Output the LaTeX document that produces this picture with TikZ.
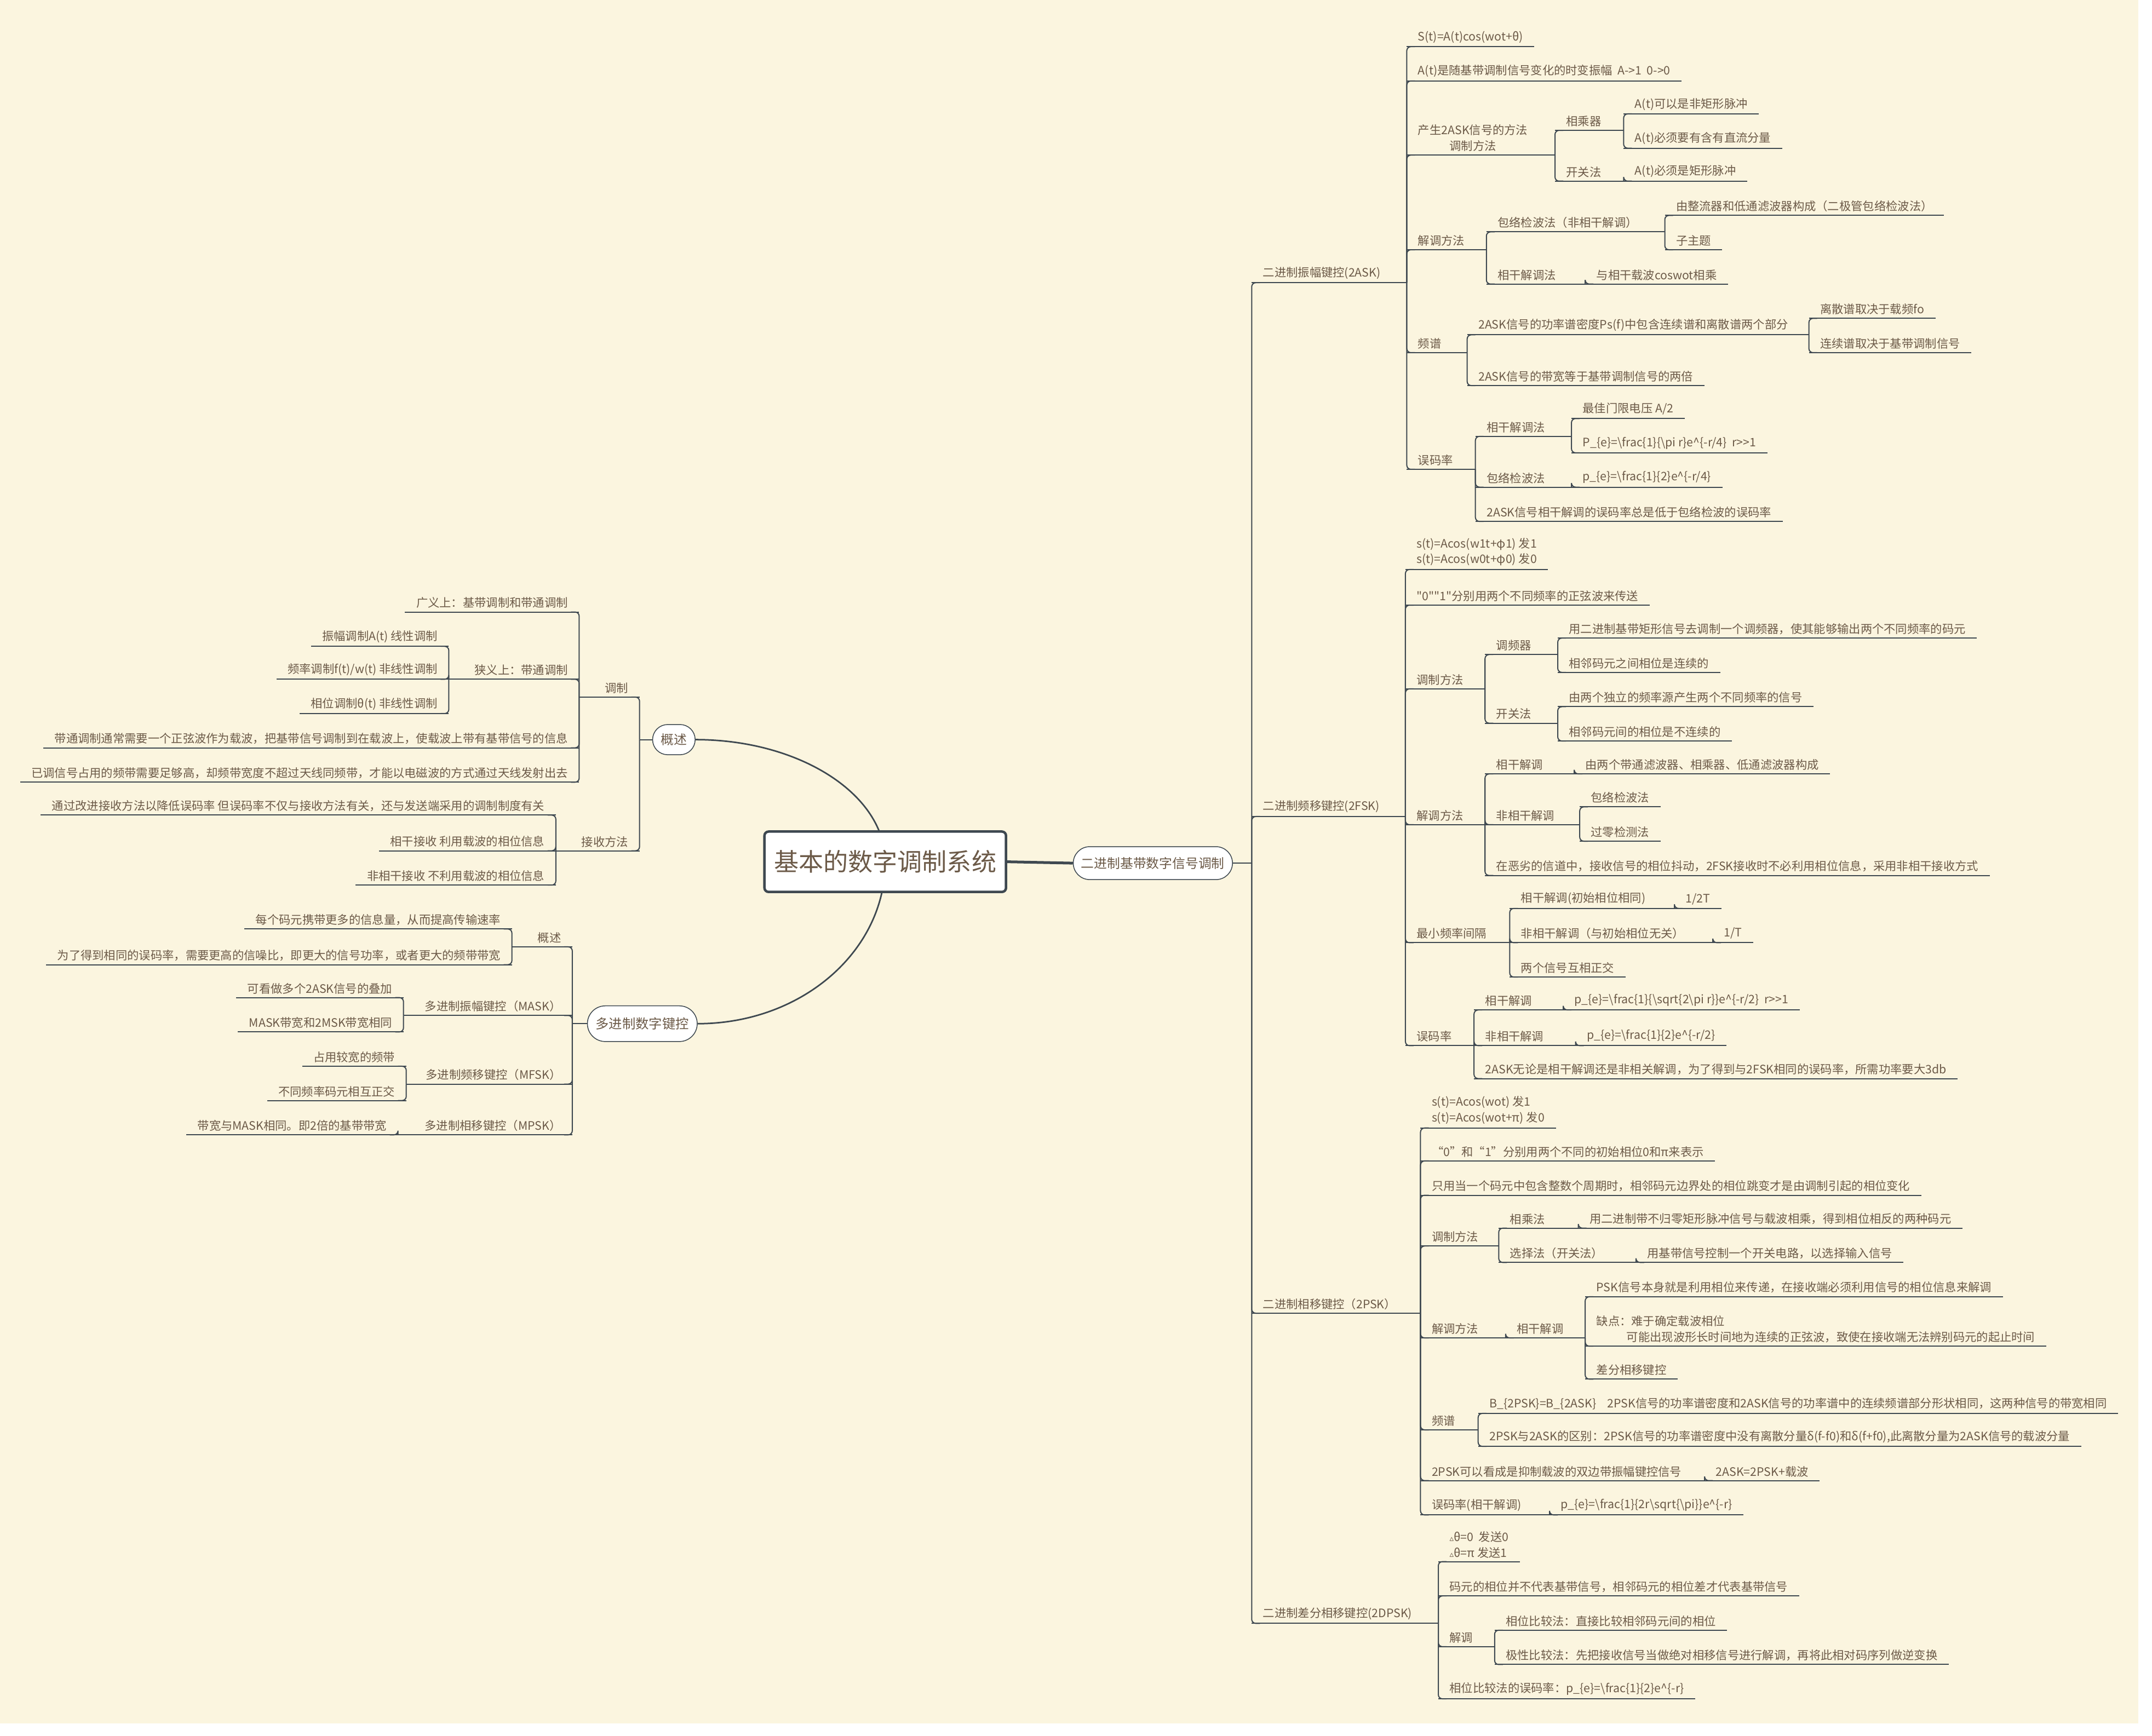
\documentclass[tikz,border=0pt]{standalone}
\usepackage{fontspec}
\setmainfont{Noto Sans CJK SC}
\newfontfamily\symf{DejaVu Sans}
\usetikzlibrary{calc}

\definecolor{bgc}{RGB}{251,245,223}
\definecolor{txt}{RGB}{108,90,72}
\definecolor{ln}{RGB}{62,72,80}

\newcommand\tfont{\fontsize{8.5}{11.5}\selectfont}
\newcommand\bs{\textbackslash}
\newcommand\crt{\textasciicircum}
\newcommand\qd{\textquotedbl}
\newcommand\tri{{\symf\fontsize{6}{6}\selectfont ▵}}

\tikzset{
  link/.style={draw=ln, line width=0.8pt},
  uline/.style={append after command={(\tikzlastnode.south west) edge[link] (\tikzlastnode.south east)}},
  rt/.style={anchor=south west, inner xsep=8pt, inner ysep=2.5pt, font=\tfont, text=txt, align=left, uline},
  lt/.style={anchor=south east, inner xsep=8pt, inner ysep=2.5pt, font=\tfont, text=txt, align=right, uline},
  bubble/.style={draw=ln, line width=0.6pt, fill=white, text=txt, inner sep=0pt},
}

% parent point #1 -> child topic #2, trunk at the child's start
\newcommand\rlink[2]{%
  \draw[link] (#1) -- (#2.south west |- #1);
  \draw[link, rounded corners=3pt] (#2.south west |- #1) |- ([xshift=6pt]#2.south west);}
\newcommand\llink[2]{%
  \draw[link] (#1) -- (#2.south east |- #1);
  \draw[link, rounded corners=3pt] (#2.south east |- #1) |- ([xshift=-6pt]#2.south east);}

\begin{document}
\begin{tikzpicture}[x=1pt,y=-1pt]
\useasboundingbox (0,0) rectangle (1568,1265);
\fill[white] (0,0) rectangle (1568,1265);
\fill[bgc] (0,0) rectangle (1558,1256);

% centre
\coordinate (rc) at (645,628);
\node[bubble, minimum width=31pt, minimum height=22pt, rounded corners=11pt, font=\fontsize{9.5}{11}\selectfont] (ov) at (491,539) {概述};
\node[bubble, minimum width=80pt, minimum height=26pt, rounded corners=13pt, font=\fontsize{9.7}{11}\selectfont] (mk) at (468,746) {多进制数字键控};
\draw[ln, line width=1.1pt] (ov.east) .. controls +(76,0) and +(0,-49) .. (rc);
\draw[ln, line width=1.1pt] (mk.east) .. controls +(76,0) and +(0,65) .. (rc);
\node[draw=ln, line width=1.8pt, fill=white, rounded corners=3pt, minimum width=176pt, minimum height=44pt, text=txt, font=\fontsize{18}{20}\selectfont] (root) at (rc) {基本的数字调制系统};
\node[bubble, minimum width=116pt, minimum height=24pt, rounded corners=12pt, font=\fontsize{9.5}{11}\selectfont] (bb) at (840,629) {二进制基带数字信号调制};
\draw[ln, line width=2pt] (root.east) -- (bb.west);

% left: 概述
\node[lt] (tz) at (466,508) {调制};
\node[lt] (js) at (466,620) {接收方法};
\node[lt] (gy) at (422,446) {广义上：基带调制和带通调制};
\node[lt] (xy) at (422,495) {狭义上：带通调制};
\node[lt] (xy1) at (327,471) {振幅调制A(t) 线性调制};
\node[lt] (xy2) at (327,495) {频率调制f(t)/w(t) 非线性调制};
\node[lt] (xy3) at (327,520) {相位调制θ(t) 非线性调制};
\node[lt] (tz3) at (422,545) {带通调制通常需要一个正弦波作为载波，把基带信号调制到在载波上，使载波上带有基带信号的信息};
\node[lt] (tz4) at (422,570) {已调信号占用的频带需要足够高，却频带宽度不超过天线同频带，才能以电磁波的方式通过天线发射出去};
\node[lt] (js1) at (405,594) {通过改进接收方法以降低误码率 但误码率不仅与接收方法有关，还与发送端采用的调制制度有关};
\node[lt] (js2) at (405,620) {相干接收 利用载波的相位信息};
\node[lt] (js3) at (405,645) {非相干接收 不利用载波的相位信息};
\llink{ov.west}{tz} \llink{ov.west}{js}
\foreach \c in {gy,xy,tz3,tz4} {\llink{tz.south west}{\c}}
\foreach \c in {xy1,xy2,xy3} {\llink{xy.south west}{\c}}
\foreach \c in {js1,js2,js3} {\llink{js.south west}{\c}}

% left: 多进制数字键控
\node[lt] (mo) at (417,690) {概述};
\node[lt] (mo1) at (373,677) {每个码元携带更多的信息量，从而提高传输速率};
\node[lt] (mo2) at (373,703) {为了得到相同的误码率，需要更高的信噪比，即更大的信号功率，或者更大的频带带宽};
\node[lt] (ma) at (417,740) {多进制振幅键控（MASK）};
\node[lt] (ma1) at (294,727) {可看做多个2ASK信号的叠加};
\node[lt] (ma2) at (294,752) {MASK带宽和2MSK带宽相同};
\node[lt] (mf) at (417,790) {多进制频移键控（MFSK）};
\node[lt] (mf1) at (296,777) {占用较宽的频带};
\node[lt] (mf2) at (296,802) {不同频率码元相互正交};
\node[lt] (mp) at (417,827) {多进制相移键控（MPSK）};
\node[lt] (mp1) at (290,827) {带宽与MASK相同。即2倍的基带带宽};
\foreach \c in {mo,ma,mf,mp} {\llink{mk.west}{\c}}
\foreach \c in {mo1,mo2} {\llink{mo.south west}{\c}}
\foreach \c in {ma1,ma2} {\llink{ma.south west}{\c}}
\foreach \c in {mf1,mf2} {\llink{mf.south west}{\c}}
\llink{mp.south west}{mp1}

% right: main branches
\node[rt] (ask) at (912,206) {二进制振幅键控(2ASK)};
\node[rt] (fsk) at (912,595) {二进制频移键控(2FSK)};
\node[rt] (psk) at (912,957) {二进制相移键控（2PSK）};
\node[rt] (dpsk) at (912,1183) {二进制差分相移键控(2DPSK)};
\foreach \c in {ask,fsk,psk,dpsk} {\rlink{bb.east}{\c}}

% 2ASK
\node[rt] (ask1) at (1025,34) {S(t)=A(t)cos(wot+θ)};
\node[rt] (ask2) at (1025,59) {A(t)是随基带调制信号变化的时变振幅\ \ A->1\ \ 0->0};
\node[rt, align=center] (ask3) at (1025,113) {产生2ASK信号的方法\\调制方法};
\node[rt] (ask3a) at (1133,95) {相乘器};
\node[rt] (ask3a1) at (1183,83) {A(t)可以是非矩形脉冲};
\node[rt] (ask3a2) at (1183,108) {A(t)必须要有含有直流分量};
\node[rt] (ask3b) at (1133,132) {开关法};
\node[rt] (ask3b1) at (1183,132) {A(t)必须是矩形脉冲};
\node[rt] (ask4) at (1025,182) {解调方法};
\node[rt] (ask4a) at (1083,169) {包络检波法（非相干解调）};
\node[rt] (ask4a1) at (1213,157) {由整流器和低通滤波器构成（二极管包络检波法）};
\node[rt] (ask4a2) at (1213,182) {子主题};
\node[rt] (ask4b) at (1083,207) {相干解调法};
\node[rt] (ask4b1) at (1155,207) {与相干载波coswot相乘};
\node[rt] (ask5) at (1025,257) {频谱};
\node[rt] (ask5a) at (1069,244) {2ASK信号的功率谱密度Ps(f)中包含连续谱和离散谱两个部分};
\node[rt] (ask5a1) at (1318,232) {离散谱取决于载频fo};
\node[rt] (ask5a2) at (1318,257) {连续谱取决于基带调制信号};
\node[rt] (ask5b) at (1069,281) {2ASK信号的带宽等于基带调制信号的两倍};
\node[rt] (ask6) at (1025,342) {误码率};
\node[rt] (ask6a) at (1075,318) {相干解调法};
\node[rt] (ask6a1) at (1145,305) {最佳门限电压 A/2};
\node[rt] (ask6a2) at (1145,330) {P\_\{e\}=\bs frac\{1\}\{\bs pi r\}e\crt\{-r/4\}\ \ r>{}>1};
\node[rt] (ask6b) at (1075,355) {包络检波法};
\node[rt] (ask6b1) at (1145,355) {p\_\{e\}=\bs frac\{1\}\{2\}e\crt\{-r/4\}};
\node[rt] (ask6c) at (1075,380) {2ASK信号相干解调的误码率总是低于包络检波的误码率};
\foreach \c in {ask1,ask2,ask3,ask4,ask5,ask6} {\rlink{ask.south east}{\c}}
\foreach \c in {ask3a,ask3b} {\rlink{ask3.south east}{\c}}
\foreach \c in {ask3a1,ask3a2} {\rlink{ask3a.south east}{\c}}
\rlink{ask3b.south east}{ask3b1}
\foreach \c in {ask4a,ask4b} {\rlink{ask4.south east}{\c}}
\foreach \c in {ask4a1,ask4a2} {\rlink{ask4a.south east}{\c}}
\rlink{ask4b.south east}{ask4b1}
\foreach \c in {ask5a,ask5b} {\rlink{ask5.south east}{\c}}
\foreach \c in {ask5a1,ask5a2} {\rlink{ask5a.south east}{\c}}
\foreach \c in {ask6a,ask6b,ask6c} {\rlink{ask6.south east}{\c}}
\foreach \c in {ask6a1,ask6a2} {\rlink{ask6a.south east}{\c}}
\rlink{ask6b.south east}{ask6b1}

% 2FSK
\node[rt] (fsk1) at (1024,415) {s(t)=Acos(w1t+φ1) 发1\\s(t)=Acos(w0t+φ0) 发0};
\node[rt] (fsk2) at (1024,441) {\qd 0\qd\qd 1\qd 分别用两个不同频率的正弦波来传送};
\node[rt] (fsk3) at (1024,502) {调制方法};
\node[rt] (fsk3a) at (1082,477) {调频器};
\node[rt] (fsk3a1) at (1135,465) {用二进制基带矩形信号去调制一个调频器，使其能够输出两个不同频率的码元};
\node[rt] (fsk3a2) at (1135,490) {相邻码元之间相位是连续的};
\node[rt] (fsk3b) at (1082,527) {开关法};
\node[rt] (fsk3b1) at (1135,515) {由两个独立的频率源产生两个不同频率的信号};
\node[rt] (fsk3b2) at (1135,540) {相邻码元间的相位是不连续的};
\node[rt] (fsk4) at (1024,601) {解调方法};
\node[rt] (fsk4a) at (1082,564) {相干解调};
\node[rt] (fsk4a1) at (1147,564) {由两个带通滤波器、相乘器、低通滤波器构成};
\node[rt] (fsk4b) at (1082,601) {非相干解调};
\node[rt] (fsk4b1) at (1151,588) {包络检波法};
\node[rt] (fsk4b2) at (1151,613) {过零检测法};
\node[rt] (fsk4c) at (1082,638) {在恶劣的信道中，接收信号的相位抖动，2FSK接收时不必利用相位信息，采用非相干接收方式};
\node[rt] (fsk5) at (1024,687) {最小频率间隔};
\node[rt] (fsk5a) at (1100,662) {相干解调(初始相位相同)};
\node[rt] (fsk5a1) at (1220,662) {1/2T};
\node[rt] (fsk5b) at (1100,687) {非相干解调（与初始相位无关）};
\node[rt] (fsk5b1) at (1248,687) {1/T};
\node[rt] (fsk5c) at (1100,712) {两个信号互相正交};
\node[rt] (fsk6) at (1024,762) {误码率};
\node[rt] (fsk6a) at (1074,736) {相干解调};
\node[rt] (fsk6a1) at (1139,736) {p\_\{e\}=\bs frac\{1\}\{\bs sqrt\{2\bs pi r\}\}e\crt\{-r/2\}\ \ r>{}>1};
\node[rt] (fsk6b) at (1074,762) {非相干解调};
\node[rt] (fsk6b1) at (1148,762) {p\_\{e\}=\bs frac\{1\}\{2\}e\crt\{-r/2\}};
\node[rt] (fsk6c) at (1074,786) {2ASK无论是相干解调还是非相关解调，为了得到与2FSK相同的误码率，所需功率要大3db};
\foreach \c in {fsk1,fsk2,fsk3,fsk4,fsk5,fsk6} {\rlink{fsk.south east}{\c}}
\foreach \c in {fsk3a,fsk3b} {\rlink{fsk3.south east}{\c}}
\foreach \c in {fsk3a1,fsk3a2} {\rlink{fsk3a.south east}{\c}}
\foreach \c in {fsk3b1,fsk3b2} {\rlink{fsk3b.south east}{\c}}
\foreach \c in {fsk4a,fsk4b,fsk4c} {\rlink{fsk4.south east}{\c}}
\rlink{fsk4a.south east}{fsk4a1}
\foreach \c in {fsk4b1,fsk4b2} {\rlink{fsk4b.south east}{\c}}
\foreach \c in {fsk5a,fsk5b,fsk5c} {\rlink{fsk5.south east}{\c}}
\rlink{fsk5a.south east}{fsk5a1}
\rlink{fsk5b.south east}{fsk5b1}
\foreach \c in {fsk6a,fsk6b,fsk6c} {\rlink{fsk6.south east}{\c}}
\rlink{fsk6a.south east}{fsk6a1}
\rlink{fsk6b.south east}{fsk6b1}

% 2PSK
\node[rt] (psk1) at (1035,822) {s(t)=Acos(wot) 发1\\s(t)=Acos(wot+π) 发0};
\node[rt] (psk2) at (1035,846) {“0”和“1”分别用两个不同的初始相位0和π来表示};
\node[rt] (psk3) at (1035,871) {只用当一个码元中包含整数个周期时，相邻码元边界处的相位跳变才是由调制引起的相位变化};
\node[rt] (psk4) at (1035,908) {调制方法};
\node[rt] (psk4a) at (1092,895) {相乘法};
\node[rt] (psk4a1) at (1150,895) {用二进制带不归零矩形脉冲信号与载波相乘，得到相位相反的两种码元};
\node[rt] (psk4b) at (1092,920) {选择法（开关法）};
\node[rt] (psk4b1) at (1192,920) {用基带信号控制一个开关电路，以选择输入信号};
\node[rt] (psk5) at (1035,975) {解调方法};
\node[rt] (psk5a) at (1097,975) {相干解调};
\node[rt] (psk5a1) at (1155,945) {PSK信号本身就是利用相位来传递，在接收端必须利用信号的相位信息来解调};
\node[rt] (psk5a2) at (1155,981) {缺点：难于确定载波相位\\\hspace*{22pt}可能出现波形长时间地为连续的正弦波，致使在接收端无法辨别码元的起止时间};
\node[rt] (psk5a3) at (1155,1005) {差分相移键控};
\node[rt] (psk6) at (1035,1042) {频谱};
\node[rt] (psk6a) at (1077,1030) {B\_\{2PSK\}=B\_\{2ASK\}\hspace{8pt}2PSK信号的功率谱密度和2ASK信号的功率谱中的连续频谱部分形状相同，这两种信号的带宽相同};
\node[rt] (psk6b) at (1077,1054) {2PSK与2ASK的区别：2PSK信号的功率谱密度中没有离散分量δ(f-f0)和δ(f+f0),此离散分量为2ASK信号的载波分量};
\node[rt] (psk7) at (1035,1079) {2PSK可以看成是抑制载波的双边带振幅键控信号};
\node[rt] (psk7a) at (1242,1079) {2ASK=2PSK+载波};
\node[rt] (psk8) at (1035,1104) {误码率(相干解调)};
\node[rt] (psk8a) at (1129,1104) {p\_\{e\}=\bs frac\{1\}\{2r\bs sqrt\{\bs pi\}\}e\crt\{-r\}};
\foreach \c in {psk1,psk2,psk3,psk4,psk5,psk6,psk7,psk8} {\rlink{psk.south east}{\c}}
\foreach \c in {psk4a,psk4b} {\rlink{psk4.south east}{\c}}
\rlink{psk4a.south east}{psk4a1}
\rlink{psk4b.south east}{psk4b1}
\rlink{psk5.south east}{psk5a}
\foreach \c in {psk5a1,psk5a2,psk5a3} {\rlink{psk5a.south east}{\c}}
\foreach \c in {psk6a,psk6b} {\rlink{psk6.south east}{\c}}
\rlink{psk7.south east}{psk7a}
\rlink{psk8.south east}{psk8a}

% 2DPSK
\node[rt] (dpsk1) at (1048,1138) {\tri θ=0\ \ 发送0\\\tri θ=π 发送1};
\node[rt] (dpsk2) at (1048,1163) {码元的相位并不代表基带信号，相邻码元的相位差才代表基带信号};
\node[rt] (dpsk3) at (1048,1200) {解调};
\node[rt] (dpsk3a) at (1089,1188) {相位比较法：直接比较相邻码元间的相位};
\node[rt] (dpsk3b) at (1089,1213) {极性比较法：先把接收信号当做绝对相移信号进行解调，再将此相对码序列做逆变换};
\node[rt] (dpsk4) at (1048,1238) {相位比较法的误码率：p\_\{e\}=\bs frac\{1\}\{2\}e\crt\{-r\}};
\foreach \c in {dpsk1,dpsk2,dpsk3,dpsk4} {\rlink{dpsk.south east}{\c}}
\foreach \c in {dpsk3a,dpsk3b} {\rlink{dpsk3.south east}{\c}}

\end{tikzpicture}
\end{document}
